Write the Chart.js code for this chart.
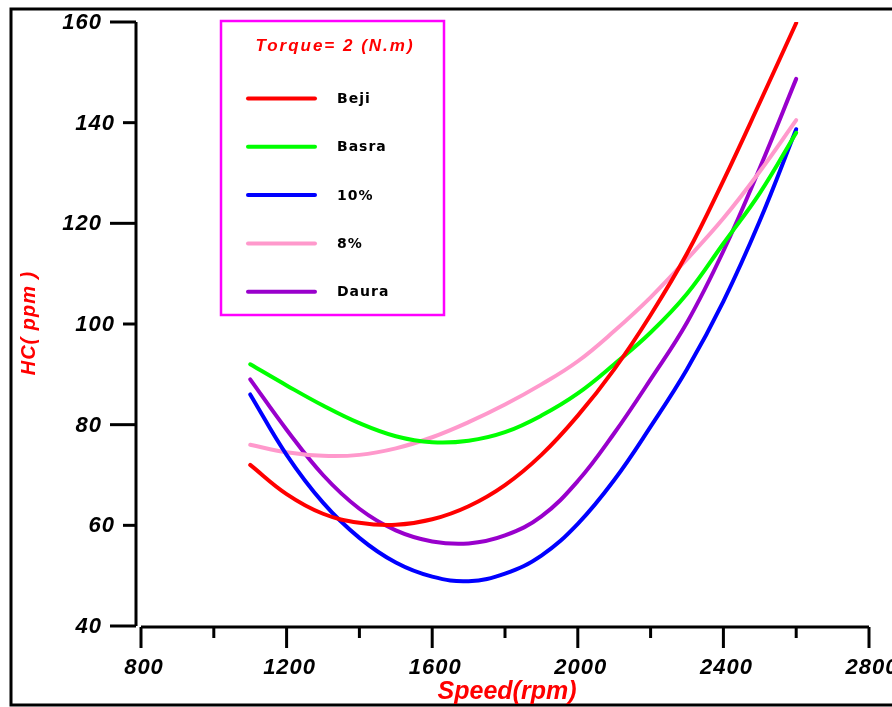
<!DOCTYPE html>
<html>
<head>
<meta charset="utf-8">
<script src="https://cdn.jsdelivr.net/npm/chart.js@4.4.0/dist/chart.umd.min.js"></script>
<style>
  html, body { margin: 0; padding: 0; background: #fff; }
  #wrap { width: 892px; height: 707px; }
</style>
</head>
<body>
<div id="wrap"><canvas id="hcChart" width="892" height="707"></canvas></div>
<script>
// Data
const speeds = [1100, 1200, 1300, 1400, 1500, 1600, 1700, 1800, 1900, 2000, 2100, 2200, 2300, 2400, 2500, 2600];
const beji   = [72, 66.2, 62.3, 60.5, 60.1, 61.2, 63.8, 68, 74, 81.8, 91, 101.8, 114, 128.5, 144, 159.8];
const basra  = [92, 87.8, 83.8, 80.3, 77.7, 76.5, 76.8, 78.5, 81.8, 86.2, 92, 98.3, 106, 116, 126, 138];
const pct10  = [86, 74, 64.5, 57.5, 52.6, 49.8, 48.9, 50.4, 54, 60.3, 69, 79.6, 91, 104.5, 120.5, 138.7];
const pct8   = [76, 74.5, 73.8, 74, 75.3, 77.5, 80.5, 84, 88, 92.6, 98.6, 105.3, 112.9, 121, 130.3, 140.5];
const daura  = [89, 79, 70, 63.3, 59, 56.8, 56.4, 58, 61.8, 68.8, 78.3, 89, 100.3, 114.5, 131, 148.7];

const seriesNames = ['Beji', 'Basra', '10%', '8%', 'Daura'];
const seriesColors = ['#ff0000', '#00ff00', '#0000ff', '#ff99cc', '#9900cc'];
const xTicks = [800, 1000, 1200, 1400, 1600, 1800, 2000, 2200, 2400, 2600, 2800];
const xLabels = [800, 1200, 1600, 2000, 2400, 2800];
const yTicks = [40, 60, 80, 100, 120, 140, 160];
const yLong = [40, 80, 120, 160];

const legendTitle = 'Torque= 2 (N.m)';
const xTitle = 'Speed(rpm)';
const yTitle = 'HC( ppm )';

const allSeries = [beji, basra, pct10, pct8, daura];

const toPoints = (vals) => vals.map((v, i) => ({ x: speeds[i], y: v }));

// Axes, frame and legend are drawn here, using the chart scales
const decorPlugin = {
  id: 'decor',
  afterDraw(chart) {
    const ctx = chart.ctx;
    const xs = chart.scales.x;
    const ys = chart.scales.y;
    const area = chart.chartArea;
    ctx.save();

    // outer frame
    ctx.strokeStyle = '#000';
    ctx.lineWidth = 3;
    ctx.strokeRect(11, 9, 900, 696);

    // y axis
    const yAxisX = area.left - 5;
    ctx.lineWidth = 3;
    ctx.beginPath();
    ctx.moveTo(yAxisX, ys.getPixelForValue(160));
    ctx.lineTo(yAxisX, ys.getPixelForValue(40));
    ctx.stroke();

    ctx.font = 'italic bold 22px "Liberation Sans", Arial, sans-serif';
    ctx.letterSpacing = '1px';
    ctx.fillStyle = '#000';
    ctx.textAlign = 'right';
    ctx.textBaseline = 'middle';
    yTicks.forEach(v => {
      const py = ys.getPixelForValue(v);
      const len = yLong.includes(v) ? 26 : 13;
      ctx.beginPath();
      ctx.moveTo(yAxisX - len, py);
      ctx.lineTo(yAxisX, py);
      ctx.stroke();
      ctx.fillText(String(v), yAxisX - len - 8, py + 1);
    });

    // x axis
    const xAxisY = area.bottom + 1;
    ctx.beginPath();
    ctx.moveTo(xs.getPixelForValue(800), xAxisY);
    ctx.lineTo(xs.getPixelForValue(2800), xAxisY);
    ctx.stroke();
    ctx.textAlign = 'center';
    xTicks.forEach(v => {
      const px = xs.getPixelForValue(v);
      const major = xLabels.includes(v);
      ctx.beginPath();
      ctx.moveTo(px, xAxisY);
      ctx.lineTo(px, xAxisY + (major ? 21 : 11));
      ctx.stroke();
      if (major) ctx.fillText(String(v), px + 3, xAxisY + 41);
    });

    // axis titles
    ctx.fillStyle = '#ff0000';
    ctx.font = 'italic bold 25px "Liberation Sans", Arial, sans-serif';
    ctx.letterSpacing = '0px';
    ctx.fillText(xTitle, 507, 692);

    ctx.save();
    ctx.translate(29, 323);
    ctx.rotate(-Math.PI / 2);
    ctx.font = 'italic bold 20px "Liberation Sans", Arial, sans-serif';
    ctx.letterSpacing = '1px';
    ctx.fillText(yTitle, 0, 0);
    ctx.restore();

    // legend box
    ctx.strokeStyle = '#ff00ff';
    ctx.lineWidth = 2.5;
    ctx.strokeRect(221, 21, 223, 294);
    ctx.fillStyle = '#ff0000';
    ctx.font = 'italic bold 17px "Liberation Sans", Arial, sans-serif';
    ctx.letterSpacing = '2px';
    ctx.textAlign = 'center';
    ctx.fillText(legendTitle, 335, 46);

    ctx.font = 'bold 14px "DejaVu Sans", sans-serif';
    ctx.letterSpacing = '1px';
    ctx.textAlign = 'left';
    chart.data.datasets.forEach((ds, i) => {
      const ly = 98.5 + i * 48.3;
      ctx.strokeStyle = ds.borderColor;
      ctx.lineWidth = 4;
      ctx.lineCap = 'round';
      ctx.beginPath();
      ctx.moveTo(248, ly);
      ctx.lineTo(315, ly);
      ctx.stroke();
      ctx.fillStyle = '#000';
      ctx.fillText(ds.label, 337, ly + 1);
    });
    ctx.restore();
  }
};

const ctx = document.getElementById('hcChart').getContext('2d');
new Chart(ctx, {
  type: 'line',
  data: {
    datasets: allSeries.map((vals, i) => ({
      label: seriesNames[i],
      data: toPoints(vals),
      borderColor: seriesColors[i],
      backgroundColor: seriesColors[i],
      borderWidth: 4,
      borderCapStyle: 'round',
      pointRadius: 0,
      tension: 0.4,
      fill: false
    }))
  },
  options: {
    responsive: false,
    animation: false,
    events: [],
    layout: { padding: { left: 141, right: 23, top: 22, bottom: 81 } },
    plugins: {
      legend: { display: false },
      tooltip: { enabled: false }
    },
    scales: {
      x: { type: 'linear', min: 800, max: 2800, display: false },
      y: { type: 'linear', min: 40, max: 160, display: false }
    }
  },
  plugins: [decorPlugin]
});
</script>
</body>
</html>
